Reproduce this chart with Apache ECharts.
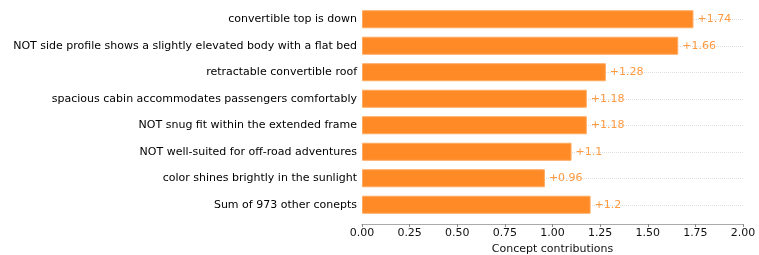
<!DOCTYPE html>
<html>
<head>
<meta charset="utf-8">
<script src="https://cdn.jsdelivr.net/npm/echarts@6/dist/echarts.min.js"></script>
<style>
* { margin: 0; padding: 0; }
body { background: #fff; }
</style>
</head>
<body>
<!-- chart container -->
<div id="main" style="width: 759px; height: 255px"></div>
<script>
var concepts = [
  "convertible top is down",
  "NOT side profile shows a slightly elevated body with a flat bed",
  "retractable convertible roof",
  "spacious cabin accommodates passengers comfortably",
  "NOT snug fit within the extended frame",
  "NOT well-suited for off-road adventures",
  "color shines brightly in the sunlight",
  "Sum of 973 other conepts"
];
var contributions = [1.74, 1.66, 1.28, 1.18, 1.18, 1.1, 0.96, 1.2];
var xTicks = [0, 0.25, 0.5, 0.75, 1, 1.25, 1.5, 1.75, 2];

var chart = echarts.init(document.getElementById("main"), null, { renderer: "canvas" });
chart.setOption({
  animation: false,
  textStyle: { fontFamily: "DejaVu Sans" },
  grid: { left: 362, right: 16, top: 6, height: 212, outerBoundsMode: "none", containLabel: false },
  xAxis: {
    type: "value",
    min: xTicks[0],
    max: xTicks[xTicks.length - 1],
    interval: 0.25,
    offset: 6,
    name: "Concept contributions",
    nameLocation: "middle",
    nameGap: 18,
    nameTextStyle: { color: "#111", fontSize: 11 },
    axisLine: { show: true, lineStyle: { color: "#aaa", width: 1 } },
    axisTick: { show: true, length: 3, lineStyle: { color: "#888" } },
    axisLabel: {
      color: "#111",
      fontSize: 11,
      margin: 4,
      formatter: function (v) { return v.toFixed(2); }
    },
    splitLine: { show: false }
  },
  yAxis: {
    type: "category",
    inverse: true,
    data: concepts,
    axisLine: { show: false },
    axisTick: { show: false },
    axisLabel: { color: "#000", fontSize: 11, margin: 5 },
    splitLine: { show: false }
  },
  series: [
    {
      // dotted row guides, behind the bars
      type: "line",
      z: 0,
      data: [],
      silent: true,
      markLine: {
        z: 0,
        silent: true,
        symbol: "none",
        label: { show: false },
        lineStyle: { type: "dotted", color: "#e0e0e0", width: 1 },
        data: concepts.map(function (c) { return { yAxis: c }; })
      }
    },
    {
      type: "bar",
      z: 5,
      data: contributions,
      barWidth: "68%",
      itemStyle: {
        color: "#ff8a26",
        borderColor: "#ffaa60",
        borderWidth: 1
      },
      label: {
        show: true,
        position: "right",
        distance: 4,
        color: "#ff9a40",
        fontSize: 11,
        formatter: function (p) { return "+" + p.value; }
      }
    }
  ]
});
</script>
</body>
</html>
